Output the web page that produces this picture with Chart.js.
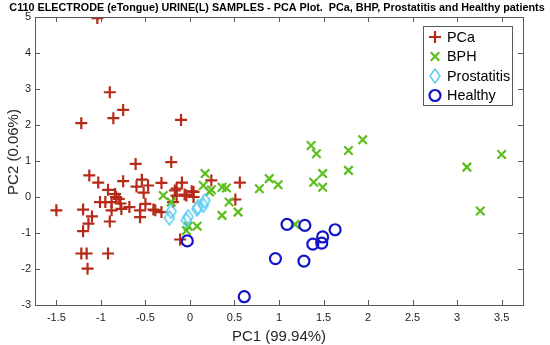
<!DOCTYPE html>
<html>
<head>
<meta charset="utf-8">
<script src="https://cdn.jsdelivr.net/npm/chart.js@4/dist/chart.umd.min.js"></script>
<style>
  html, body { margin: 0; padding: 0; background: #fff; }
  .chart__container { position: relative; width: 550px; height: 345px; }
</style>
</head>
<body>
<div class="chart__container">
  <canvas id="chart" width="550" height="345"></canvas>
</div>
<script>
const titleText = 'C110 ELECTRODE (eTongue) URINE(L) SAMPLES - PCA Plot.  PCa, BHP, Prostatitis and Healthy patients';
const xTitle = 'PC1 (99.94%)';
const yTitle = 'PC2 (0.06%)';
const xTicks = [-1.5, -1, -0.5, 0, 0.5, 1, 1.5, 2, 2.5, 3, 3.5];
const yTicks = [-3, -2, -1, 0, 1, 2, 3, 4, 5];
const legendLabels = ['PCa', 'BPH', 'Prostatitis', 'Healthy'];

const pcaPoints = [
  [-1.04, 4.97], [-0.90, 2.91], [-0.75, 2.42], [-0.86, 2.19], [-1.22, 2.05], [-0.10, 2.14],
  [-0.61, 0.92], [-0.21, 0.97], [-1.13, 0.60], [-1.03, 0.40], [-0.92, 0.20], [-0.83, 0.00],
  [-0.75, 0.44], [-0.54, 0.48], [-0.60, 0.29], [-0.47, 0.32], [-0.32, 0.39], [-0.09, 0.40],
  [-0.15, 0.23], [-0.52, 0.12], [-1.01, -0.14], [-0.88, -0.14], [-0.77, -0.33], [-0.68, -0.28],
  [-0.88, -0.37], [-0.50, -0.19], [-0.56, -0.37], [-0.39, -0.37], [-0.32, -0.42], [-0.56, -0.56],
  [-1.50, -0.37], [-1.20, -0.35], [-1.10, -0.54], [-1.14, -0.74], [-0.90, -0.68], [-1.20, -0.95],
  [-1.22, -1.57], [-1.16, -1.57], [-0.92, -1.57], [-1.15, -1.99], [-0.11, -1.18], [-0.19, -0.14],
  [-0.04, 0.04], [0.04, 0.14], [0.24, 0.46], [0.56, 0.40], [0.51, -0.07], [0.02, 0.16],
  [-0.17, 0.18], [-0.06, 0.07], [-0.41, -0.35], [-0.80, -0.05], [-0.84, 0.08], [-0.78, -0.18],
  [-0.95, -0.14], [-0.15, 0.04], [0.04, 0.00]
];
const bphPoints = [
  [1.94, 1.59], [1.36, 1.43], [1.42, 1.20], [1.78, 1.29], [1.78, 0.74], [1.49, 0.65],
  [1.39, 0.41], [1.49, 0.27], [0.89, 0.51], [0.99, 0.34], [0.78, 0.23], [0.36, 0.27],
  [0.41, 0.25], [0.22, 0.14], [0.17, 0.65], [0.15, 0.32], [0.44, -0.14], [0.54, -0.42],
  [0.36, -0.51], [1.18, -0.76], [3.50, 1.18], [3.11, 0.83], [3.26, -0.39], [0.24, 0.20],
  [-0.30, 0.04], [-0.21, -0.14], [0.08, -0.81], [-0.02, -0.81], [-0.04, -0.93]
];
const prostatitisPoints = [
  [-0.21, -0.40], [-0.23, -0.58], [-0.04, -0.65], [0.08, -0.33], [0.09, -0.28],
  [0.15, -0.23], [0.17, -0.10], [-0.02, -0.55]
];
const healthyPoints = [
  [1.09, -0.76], [1.29, -0.79], [1.63, -0.91], [1.49, -1.11], [1.48, -1.28],
  [1.38, -1.31], [0.96, -1.71], [1.28, -1.78], [0.61, -2.77], [-0.03, -1.22]
];

const toXY = (pts) => pts.map(([x, y]) => ({ x, y }));

const FONT = 'Liberation Sans, Arial, sans-serif';
const INK = '#262626';

// tall MATLAB-like diamond marker as an image
const diamond = document.createElement('canvas');
diamond.width = 12;
diamond.height = 16;
(() => {
  const c = diamond.getContext('2d');
  c.strokeStyle = '#62cdf0';
  c.lineWidth = 1.6;
  c.beginPath();
  c.moveTo(6, 1); c.lineTo(11, 8); c.lineTo(6, 15); c.lineTo(1, 8);
  c.closePath();
  c.stroke();
})();

const seriesStyles = [
  { color: '#b52a18', pointStyle: 'cross', radius: 6, width: 2.2 },
  { color: '#5cbf1e', pointStyle: 'crossRot', radius: 6, width: 2.2 },
  { color: '#62cdf0', pointStyle: diamond, radius: 6, width: 1.6 },
  { color: '#1414c8', pointStyle: 'circle', radius: 5.5, width: 2.2 },
];
const seriesData = [pcaPoints, bphPoints, prostatitisPoints, healthyPoints];

function drawMarker(ctx, st, x, y) {
  const r = st.radius;
  ctx.save();
  ctx.strokeStyle = st.color;
  ctx.lineWidth = st.width;
  ctx.beginPath();
  if (st.pointStyle === 'cross') {
    ctx.moveTo(x - r, y); ctx.lineTo(x + r, y);
    ctx.moveTo(x, y - r); ctx.lineTo(x, y + r);
  } else if (st.pointStyle === 'crossRot') {
    const d = r * Math.SQRT1_2;
    ctx.moveTo(x - d, y - d); ctx.lineTo(x + d, y + d);
    ctx.moveTo(x + d, y - d); ctx.lineTo(x - d, y + d);
  } else if (st.pointStyle === 'circle') {
    ctx.arc(x, y, r, 0, Math.PI * 2);
  } else {
    ctx.drawImage(st.pointStyle, x - 6, y - 8);
  }
  ctx.stroke();
  ctx.restore();
}

const framePlugin = {
  id: 'frame',
  afterDraw(chart) {
    const { ctx, chartArea: a, scales } = chart;
    ctx.save();
    ctx.strokeStyle = '#5a5a5a';
    ctx.lineWidth = 1;
    ctx.strokeRect(a.left + 0.5, a.top + 0.5, a.right - a.left, a.bottom - a.top);
    // inward ticks, all four sides
    ctx.beginPath();
    xTicks.forEach((v) => {
      const px = Math.round(scales.x.getPixelForValue(v)) + 0.5;
      ctx.moveTo(px, a.bottom); ctx.lineTo(px, a.bottom - 5);
      ctx.moveTo(px, a.top); ctx.lineTo(px, a.top + 5);
    });
    yTicks.forEach((v) => {
      const py = Math.round(scales.y.getPixelForValue(v)) + 0.5;
      ctx.moveTo(a.left, py); ctx.lineTo(a.left + 5, py);
      ctx.moveTo(a.right, py); ctx.lineTo(a.right - 5, py);
    });
    ctx.stroke();

    ctx.fillStyle = '#000';
    ctx.font = 'bold 10.8px ' + FONT;
    ctx.textAlign = 'center';
    ctx.textBaseline = 'middle';
    ctx.fillText(titleText, 277, 8);

    ctx.fillStyle = INK;
    ctx.font = '15px ' + FONT;
    ctx.fillText(xTitle, (a.left + a.right) / 2, 337);
    ctx.save();
    ctx.translate(14, 152);
    ctx.rotate(-Math.PI / 2);
    ctx.fillText(yTitle, 0, 0);
    ctx.restore();

    // legend box, top right inside the axes
    const lx = 423, ly = 26, lw = 89, lh = 79;
    ctx.fillStyle = '#fff';
    ctx.fillRect(lx, ly, lw, lh);
    ctx.strokeStyle = '#5a5a5a';
    ctx.strokeRect(lx + 0.5, ly + 0.5, lw, lh);
    ctx.font = '14.4px ' + FONT;
    ctx.textAlign = 'left';
    ctx.fillStyle = '#000';
    legendLabels.forEach((lab, i) => {
      const yy = 37 + i * 19.5;
      drawMarker(ctx, seriesStyles[i], 435, yy);
      ctx.fillText(lab, 447, yy + 1);
    });
    ctx.restore();
  },
};

const canvasRef = document.getElementById('chart').getContext('2d');
// eslint-disable-next-line no-new
new Chart(canvasRef, {
  type: 'scatter',
  data: {
    datasets: seriesData.map((pts, i) => ({
      label: legendLabels[i],
      data: toXY(pts),
      pointStyle: seriesStyles[i].pointStyle,
      pointRadius: seriesStyles[i].radius,
      pointBorderWidth: seriesStyles[i].width,
      borderColor: seriesStyles[i].color,
      backgroundColor: 'rgba(0,0,0,0)',
      order: 3 - i,
    })),
  },
  options: {
    responsive: false,
    animation: false,
    events: [],
    layout: { padding: { top: 17, right: 27, left: 0, bottom: 0 } },
    plugins: { legend: { display: false }, title: { display: false }, tooltip: { enabled: false } },
    scales: {
      x: {
        type: 'linear',
        min: -1.74,
        max: 3.74,
        grid: { display: false, drawTicks: false },
        border: { display: false },
        afterBuildTicks: (s) => { s.ticks = xTicks.map((v) => ({ value: v })); },
        afterFit: (s) => { s.height = 40; },
        ticks: {
          padding: 6,
          color: INK,
          font: { family: FONT, size: 11 },
          maxRotation: 0,
          autoSkip: false,
          callback: (v) => String(v),
        },
      },
      y: {
        type: 'linear',
        min: -3,
        max: 5,
        grid: { display: false, drawTicks: false },
        border: { display: false },
        afterBuildTicks: (s) => { s.ticks = yTicks.map((v) => ({ value: v })); },
        afterFit: (s) => { s.width = 35; },
        ticks: {
          padding: 4,
          color: INK,
          font: { family: FONT, size: 11 },
          autoSkip: false,
          callback: (v) => String(v),
        },
      },
    },
  },
  plugins: [framePlugin],
});
</script>
</body>
</html>
